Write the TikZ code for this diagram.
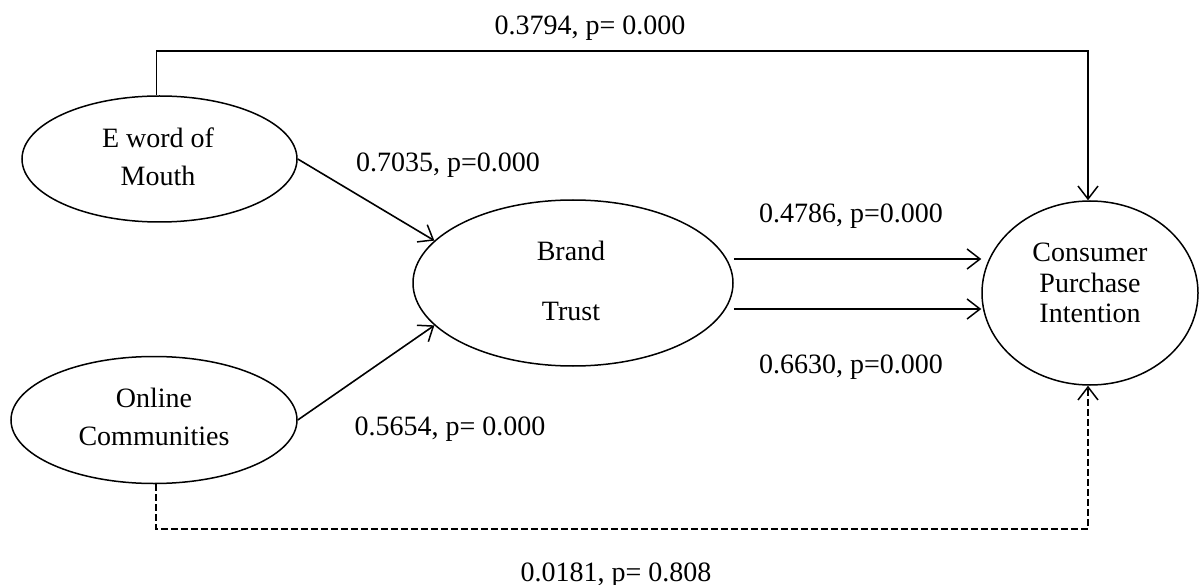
\documentclass[tikz,border=0pt]{standalone}
\usepackage{fontspec}
\setmainfont{Liberation Serif}
\usetikzlibrary{arrows.meta,shapes.geometric}
\tikzset{
  oval/.style={draw, ellipse, line width=1.5pt, inner sep=0pt},
  txt/.style={font=\fontsize{28}{38}\selectfont, inner sep=0pt, align=center},
  lbl/.style={font=\fontsize{28}{34}\selectfont, inner sep=0pt, anchor=base},
  conn/.style={line width=1.6pt, -{Straight Barb[length=13pt,width=20pt,line width=1.5pt]}},
  dconn/.style={conn, dash pattern=on 6.5pt off 3.5pt}
}
\begin{document}
\begin{tikzpicture}[x=1pt,y=-1pt]
\useasboundingbox (0,0) rectangle (1204,585);
% shapes
\node[oval, minimum width=275pt, minimum height=126pt] (ew) at (159.5,159) {};
\node[txt] (ewT) at (158,157) {E word of\\Mouth};
\node[oval, minimum width=286pt, minimum height=127pt] (oc) at (154,420) {};
\node[txt] (ocT) at (154,417) {Online\\Communities};
\node[oval, minimum width=320pt, minimum height=166pt] (brand) at (573,283) {};
\node[txt] (brandT) at (571,281) {Brand\\[22pt]Trust};
\node[oval, minimum width=216pt, minimum height=184pt] (cpi) at (1090,293) {};
\node[txt, font=\fontsize{28}{30.5}\selectfont] (cpiT) at (1090,283) {Consumer\\Purchase\\Intention};
% helper coordinates
\coordinate (topy) at (0,51);
\coordinate (boty) at (0,529);
\coordinate (r1) at (0,259);
\coordinate (r2) at (0,309);
% connectors
\draw[conn] ([xshift=-3pt]ew.north) -- ([xshift=-3pt]ew.north |- topy) -| ([xshift=-2pt]cpi.north);
\draw[conn] (ew.east) -- (brand.163);
\draw[conn] (oc.east) -- (brand.197);
\draw[conn] (brand.east |- r1) -- (cpi.west |- r1);
\draw[conn] (brand.east |- r2) -- (cpi.west |- r2);
\draw[dconn] ([xshift=2pt]oc.south) -- ([xshift=2pt]oc.south |- boty) -| ([xshift=-2pt]cpi.south);
% labels
\node[lbl] (l1) at (590,35) {0.3794, p= 0.000};
\node[lbl] (l2) at (448,172) {0.7035, p=0.000};
\node[lbl] (l3) at (851,223) {0.4786, p=0.000};
\node[lbl] (l4) at (851,373) {0.6630, p=0.000};
\node[lbl] (l5) at (450,435) {0.5654, p= 0.000};
\node[lbl] (l6) at (616,581) {0.0181, p= 0.808};
\end{tikzpicture}
\end{document}
